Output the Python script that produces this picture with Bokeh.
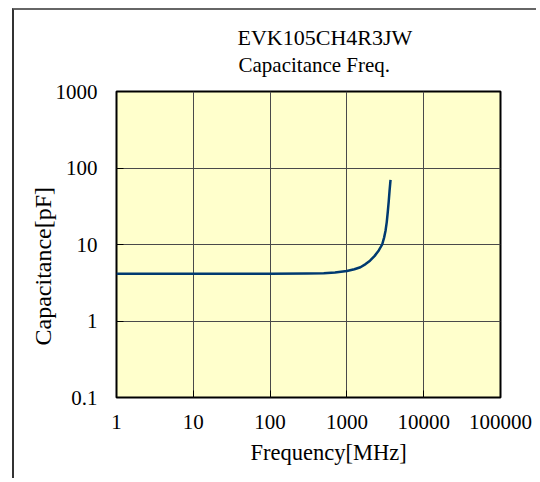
from bokeh.plotting import figure
from bokeh.models import FixedTicker, CustomJSTickFormatter, Title, ColumnDataSource
from bokeh.embed import file_html
from bokeh.resources import INLINE

title_line1 = "EVK105CH4R3JW"
title_line2 = "Capacitance Freq."
x_label = "Frequency[MHz]"
y_label = "Capacitance[pF]"
x_ticks = [1, 10, 100, 1000, 10000, 100000]
y_ticks = [0.1, 1, 10, 100, 1000]

freq_mhz = [1, 10, 100, 300, 500, 700, 1000, 1250, 1500, 1750, 2000, 2300, 2600,
            2880, 3050, 3180, 3300, 3410, 3500, 3590, 3650, 3700]
cap_pf = [4.15, 4.15, 4.15, 4.17, 4.22, 4.32, 4.5, 4.75, 5.05, 5.55, 6.15, 7.1, 8.35,
          10.0, 12.3, 15.0, 19.5, 27.0, 36.0, 50.0, 60.0, 70.0]

FONT = "Liberation Serif"

p = figure(width=524, height=470, x_axis_type="log", y_axis_type="log",
           x_range=(1, 100000), y_range=(0.1, 1000),
           output_backend="svg", toolbar_location=None,
           min_border_left=102, min_border_right=38,
           min_border_top=81, min_border_bottom=83)

p.styles = {"border-left": "2px solid #333333", "border-top": "2px solid #666666",
            "margin-left": "12px", "margin-top": "8px"}

p.background_fill_color = "#FFFFCC"
p.border_fill_color = "white"
p.outline_line_color = "black"
p.outline_line_width = 2

for ax, ticks in ((p.xaxis[0], x_ticks), (p.yaxis[0], y_ticks)):
    ax.ticker = FixedTicker(ticks=ticks, minor_ticks=[])
    ax.formatter = CustomJSTickFormatter(code="return String(tick);")
    ax.axis_line_color = None
    ax.major_tick_in = 7
    ax.major_tick_out = 0
    ax.major_tick_line_color = "black"
    ax.minor_tick_line_color = None
    ax.major_label_text_font = FONT
    ax.major_label_text_font_size = "21px"
    ax.major_label_text_color = "black"

p.xaxis.major_label_standoff = 17
p.yaxis.major_label_standoff = 19

p.xgrid.ticker = FixedTicker(ticks=x_ticks)
p.ygrid.ticker = FixedTicker(ticks=y_ticks)
p.grid.grid_line_color = "#4a4a4a"
p.grid.grid_line_width = 1

src = ColumnDataSource(data=dict(f=freq_mhz, c=cap_pf))
p.line("f", "c", source=src, line_color="#003A70", line_width=2.5, line_join="round")

p.add_layout(Title(text=title_line2, align="left", offset=122, text_font=FONT,
                   text_font_size="21px", text_font_style="normal", text_color="black",
                   standoff=29), "above")
p.add_layout(Title(text=title_line1, align="left", offset=121, text_font=FONT,
                   text_font_size="22px", text_font_style="normal", text_color="black",
                   standoff=-26.5), "above")
p.add_layout(Title(text=x_label, align="left", offset=134, text_font=FONT,
                   text_font_size="22.5px", text_font_style="normal", text_color="black",
                   standoff=13), "below")
p.add_layout(Title(text=y_label, align="left", offset=52, text_font=FONT,
                   text_font_size="24px", text_font_style="normal", text_color="black",
                   standoff=-7), "left")

open("out.html", "w").write(file_html(p, INLINE))
